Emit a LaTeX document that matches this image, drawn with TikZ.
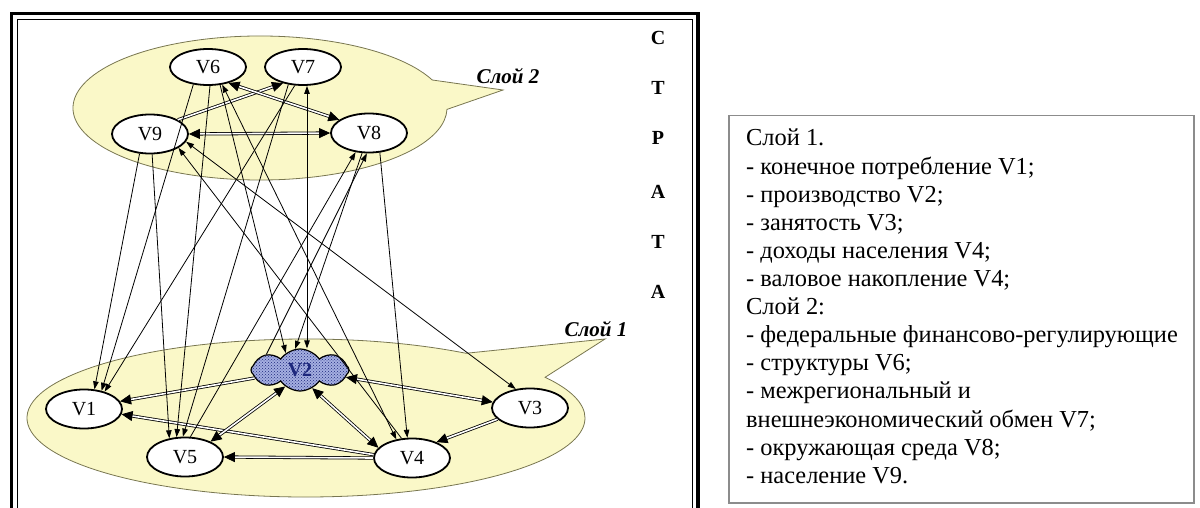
\documentclass[tikz,border=0pt]{standalone}
\usepackage{fontspec}
\setmainfont{Liberation Serif}
\usetikzlibrary{shapes.geometric,shapes.callouts,shapes.symbols,arrows.meta,patterns}
\definecolor{bubble}{RGB}{250,248,200}
\definecolor{bubbleline}{RGB}{120,118,80}
\definecolor{cloudfill}{RGB}{165,175,225}
\definecolor{clouddot}{RGB}{30,40,125}
\definecolor{boxline}{RGB}{140,140,140}
\begin{document}
\begin{tikzpicture}[x=1pt,y=-1pt,
  bubblestyle/.style={ellipse callout, draw=bubbleline, fill=bubble, line width=0.8pt, inner sep=0pt, callout pointer arc=24},
  vn/.style={ellipse, draw, line width=1.8pt, fill=white, inner sep=0pt, minimum width=76pt, minimum height=39pt, font=\fontsize{20}{22}\selectfont},
  thinarrow/.style={line width=0.8pt, -{Triangle[length=8pt,width=5.5pt]}},
  thinboth/.style={line width=0.8pt, {Triangle[length=8pt,width=5.5pt]}-{Triangle[length=8pt,width=5.5pt]}},
  dblarrow/.style={line width=0.8pt, double, double distance=1.6pt, -{Triangle[length=11pt,width=10pt]}},
  dblboth/.style={line width=0.8pt, double, double distance=1.6pt, {Triangle[length=11pt,width=10pt]}-{Triangle[length=11pt,width=10pt]}},
  strata/.style={font=\fontsize{20}{22}\selectfont\bfseries},
  layerlabel/.style={font=\fontsize{21}{23}\selectfont\bfseries\itshape},
  legendline/.style={anchor=base west, inner sep=0pt, font=\fontsize{24.4}{26}\selectfont}
]
\useasboundingbox (0,0) rectangle (1200,508);
\clip (0,0) rectangle (1200,508);
% frame
\draw[line width=3.5pt] (11.5,13.5) rectangle (698,540);
\draw[line width=1.2pt] (17.5,19.5) rectangle (692.5,540);
% layer bubbles
\node[bubblestyle, minimum width=374pt, minimum height=144pt, callout absolute pointer={(503,90)}] (layer2) at (260,108) {};
\node[bubblestyle, minimum width=558pt, minimum height=158pt, callout absolute pointer={(605,339)}] (layer1) at (306,418) {};
\node[layerlabel] (lab2) at (508,76) {Слой 2};
\node[layerlabel] (lab1) at (596,329) {Слой 1};
% strata letters
\node[strata] (s1) at (658,38) {С};
\node[strata] (s2) at (658,88) {Т};
\node[strata] (s3) at (658,138) {Р};
\node[strata] (s4) at (658,192) {А};
\node[strata] (s5) at (658,242) {Т};
\node[strata] (s6) at (658,292) {А};
% vertices
\node[vn, minimum height=36pt] (v6) at (208,67) {V6};
\node[vn, minimum height=36pt] (v7) at (303,67) {V7};
\node[vn] (v9) at (150,134) {V9};
\node[vn] (v8) at (369,133) {V8};
\node[vn] (v1) at (84,409) {V1};
\node[vn] (v5) at (185,457) {V5};
\node[vn] (v3) at (530,408) {V3};
\node[vn] (v4) at (412,458) {V4};
\node[cloud, cloud puffs=8, cloud puff arc=110, aspect=2.4, draw, line width=1.2pt, preaction={fill=cloudfill}, pattern=crosshatch dots, pattern color=clouddot, minimum width=98pt, minimum height=42pt, inner sep=0pt, text=clouddot, font=\fontsize{20}{22}\selectfont\bfseries] (v2) at (300,370) {V2};
\coordinate (x307) at (307,0);
% layer 2 double connectors
\draw[dblboth] (v9.east) -- (v8.west);
\draw[dblarrow] (v9.27) -- (v7.219);
\draw[dblboth] (v6.322) -- (v8.156);
% layer 1 double connectors
\draw[dblarrow] (v2.190) -- (v1.12);
\draw[dblarrow] (v4.175) -- (v1.352);
\draw[dblarrow] (v4.west) -- (v5.east);
\draw[dblboth] (v2.228) -- (v5.31);
\draw[dblboth] (v4.163) -- (v2.304);
\draw[dblarrow] (v3.199) -- (v4.33);
\draw[dblboth] (v2.351) -- (v3.171);
% inter-layer connectors
\draw[thinarrow] (v9.242) -- (v1.62);
\draw[thinarrow] (v9.276) -- (v5.130);
\draw[thinarrow] (v6.230) -- (v1.46);
\draw[thinarrow] (v6.276) -- (v5.113);
\draw[thinarrow] (v6.304) -- (v2.130);
\draw[thinboth] (v4.130) -- (v6.309);
\draw[thinarrow] (v7.246) -- (v1.40);
\draw[thinarrow] (v7.230) -- (v5.96);
\draw[thinboth] (v2.north -| x307) -- (v7.south -| x307);
\draw[thinarrow] (v4.118) -- (v9.334);
\draw[thinboth] (v9.348) -- (v3.127);
\draw[thinarrow] (v5.75) -- (v8.235);
\draw[thinarrow] (v2.155) -- (v8.264);
\draw[thinarrow] (v8.299) -- (v4.103);
\draw[thinarrow] (v8.251) -- (v2.103);
% legend
\node[draw=boxline, line width=1.5pt, minimum width=465pt, minimum height=387pt, anchor=north west, inner sep=0pt] (legend) at (728,115) {};
\node[legendline] (t1) at (746,146) {Слой 1.};
\node[legendline] (t2) at (746,174.1) {- конечное потребление V1;};
\node[legendline] (t3) at (746,202.2) {- производство V2;};
\node[legendline] (t4) at (746,230.3) {- занятость V3;};
\node[legendline] (t5) at (746,258.4) {- доходы населения V4;};
\node[legendline] (t6) at (746,286.5) {- валовое накопление V4;};
\node[legendline] (t7) at (746,314.6) {Слой 2:};
\node[legendline] (t8) at (746,342.7) {- федеральные финансово-регулирующие};
\node[legendline] (t9) at (746,370.8) {- структуры V6;};
\node[legendline] (t10) at (746,398.9) {- межрегиональный и};
\node[legendline] (t11) at (746,427) {внешнеэкономический обмен V7;};
\node[legendline] (t12) at (746,455.1) {- окружающая среда V8;};
\node[legendline] (t13) at (746,483.2) {- население V9.};
\end{tikzpicture}
\end{document}
